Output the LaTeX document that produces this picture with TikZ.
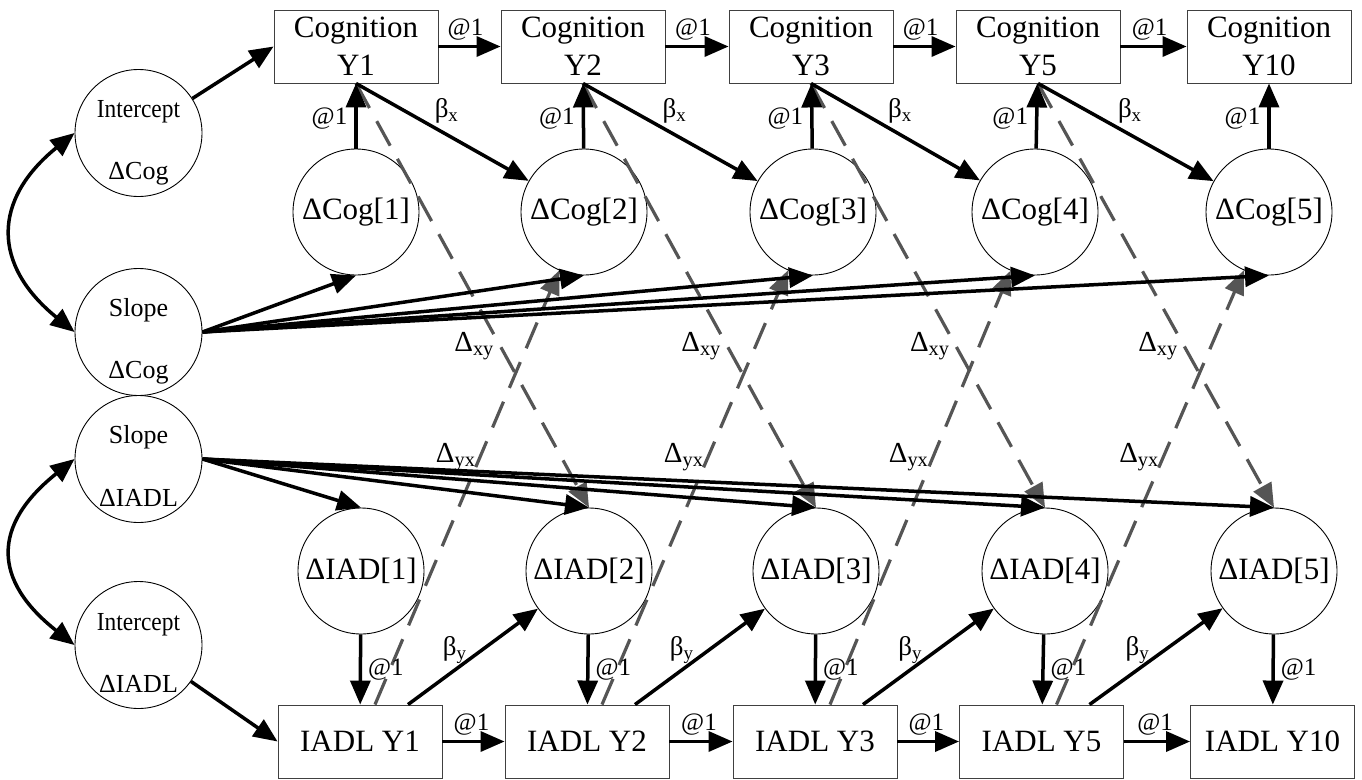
\documentclass[tikz,border=0pt]{standalone}
\usepackage{fontspec}
\setmainfont{Liberation Serif}
\usepackage{graphicx}
\usetikzlibrary{arrows.meta,calc}
\definecolor{dgray}{HTML}{555555}
\begin{document}
\begin{tikzpicture}[x=1pt,y=-1pt,
  box/.style={draw=black!75, line width=0.9pt, minimum width=164pt, minimum height=73pt, inner sep=0pt, align=center, font=\fontsize{31}{38}\selectfont},
  lat/.style={circle, draw, line width=0.9pt, minimum size=126pt, inner sep=0pt, font=\fontsize{31}{38}\selectfont},
  big/.style={circle, draw, line width=0.9pt, minimum size=127pt, inner sep=0pt},
  ctext/.style={font=\fontsize{26}{30}\selectfont, inner sep=0pt, anchor=base},
  arr/.style={line width=3.5pt, -{Triangle[length=24pt,width=20pt]}},
  darr/.style={draw=dgray, line width=3.2pt, dash pattern=on 28pt off 15pt, -{Triangle[length=24pt,width=20pt,fill=dgray]}},
  lab/.style={font=\fontsize{25}{27}\selectfont, inner sep=1pt},
  blab/.style={font=\fontsize{27}{29}\selectfont, inner sep=1pt},
  glab/.style={font=\fontsize{29}{31}\selectfont, inner sep=1pt},
]
\useasboundingbox (0,0) rectangle (1362,779);
% top boxes
\node[box] (C1) at (356,46.5) {Cognition\\Y1};
\node[box] (C2) at (583,46.5) {Cognition\\Y2};
\node[box] (C3) at (811,46.5) {Cognition\\Y3};
\node[box] (C4) at (1038,46.5) {Cognition\\Y5};
\node[box] (C5) at (1269,46.5) {Cognition\\Y10};
% bottom boxes
\node[box] (I1) at (360,741.5) {IADL Y1};
\node[box] (I2) at (587,741.5) {IADL Y2};
\node[box] (I3) at (815,741.5) {IADL Y3};
\node[box] (I4) at (1041.5,741.5) {IADL Y5};
\node[box] (I5) at (1272.5,741.5) {IADL Y10};
% change circles
\node[lat] (D1) at (356,212) {ΔCog[1]};
\node[lat] (D2) at (584,212) {ΔCog[2]};
\node[lat] (D3) at (813,212) {ΔCog[3]};
\node[lat] (D4) at (1035,212) {ΔCog[4]};
\node[lat] (D5) at (1269,212) {ΔCog[5]};
\node[lat] (E1) at (361,571) {ΔIAD[1]};
\node[lat] (E2) at (589,571) {ΔIAD[2]};
\node[lat] (E3) at (816,571) {ΔIAD[3]};
\node[lat] (E4) at (1045,571) {ΔIAD[4]};
\node[lat] (E5) at (1274,571) {ΔIAD[5]};
% left latent circles
\node[big] (ICog) at (138.5,133) {};
\node[big] (SCog) at (138.5,332) {};
\node[big] (SIADL) at (138.5,459) {};
\node[big] (IIADL) at (138.5,645) {};
\node[ctext] (tICog) at ([yshift=16pt]ICog.center) {\scalebox{0.9}[1]{Intercept}};
\node[ctext] (bICog) at ([yshift=-46pt]ICog.center) {ΔCog};
\node[ctext] (tSCog) at ([yshift=16pt]SCog.center) {Slope};
\node[ctext] (bSCog) at ([yshift=-46pt]SCog.center) {ΔCog};
\node[ctext] (tSIADL) at ([yshift=16pt]SIADL.center) {Slope};
\node[ctext] (bSIADL) at ([yshift=-47pt]SIADL.center) {ΔIADL};
\node[ctext] (tIIADL) at ([yshift=15pt]IIADL.center) {\scalebox{0.9}[1]{Intercept}};
\node[ctext] (bIIADL) at ([yshift=-47pt]IIADL.center) {ΔIADL};
% dashed cross-lagged paths
\foreach \c/\e in {C1/E2,C2/E3,C3/E4,C4/E5}
  \draw[darr] (\c.south) -- node[glab,pos=0.62,left=4pt]{Δ\textsubscript{xy}} (\e.north);
\foreach \i/\d in {I1/D2,I2/D3,I3/D4,I4/D5}
  \draw[darr] ([xshift=15pt]\i.north) -- node[glab,pos=0.57,left=2pt]{Δ\textsubscript{yx}} (\d);
% intercepts
\draw[arr] (ICog) -- (C1.west);
\draw[arr] (IIADL) -- (I1.west);
% covariances
\draw[line width=3.5pt, {Triangle[length=24pt,width=20pt]}-{Triangle[length=24pt,width=20pt]}] (ICog.west) .. controls (-8,200) and (-8,265) .. (SCog.west);
\draw[line width=3.5pt, {Triangle[length=24pt,width=20pt]}-{Triangle[length=24pt,width=20pt]}] (SIADL.west) .. controls (-8,525) and (-8,580) .. (IIADL.west);
% autoregressive
\foreach \a/\b in {C1/C2,C2/C3,C3/C4,C4/C5}
  \draw[arr] (\a) -- node[lab,above=4pt,xshift=-4pt]{@1} (\b);
\foreach \a/\b in {I1/I2,I2/I3,I3/I4,I4/I5}
  \draw[arr] (\a) -- node[lab,above=4pt,xshift=-2pt]{@1} (\b);
% change to observed
\foreach \d/\c in {D1/C1,D2/C2,D3/C3,D4/C4,D5/C5}
  \draw[arr] (\d) -- node[lab,left=6pt,yshift=-3pt]{@1} (\c);
\foreach \e/\i in {E1/I1,E2/I2,E3/I3,E4/I4,E5/I5}
  \draw[arr] (\e) -- node[lab,right=5pt]{@1} (\i);
% proportional effects
\foreach \c/\d in {C1/D2,C2/D3,C3/D4,C4/D5}
  \draw[arr] (\c.south) -- node[blab,pos=0.44,anchor=south west]{β\textsubscript{x}} (\d);
\foreach \i/\e in {I1/E2,I2/E3,I3/E4,I4/E5}
  \draw[arr] ([xshift=48pt]\i.north) -- node[blab,pos=0.36,anchor=south,yshift=4pt]{β\textsubscript{y}} (\e);
% slopes
\foreach \d in {D1,D2,D3,D4,D5}
  \draw[arr] (SCog.east) -- (\d.south);
\foreach \e in {E1,E2,E3,E4,E5}
  \draw[arr] (SIADL.east) -- (\e.north);
\end{tikzpicture}
\end{document}
